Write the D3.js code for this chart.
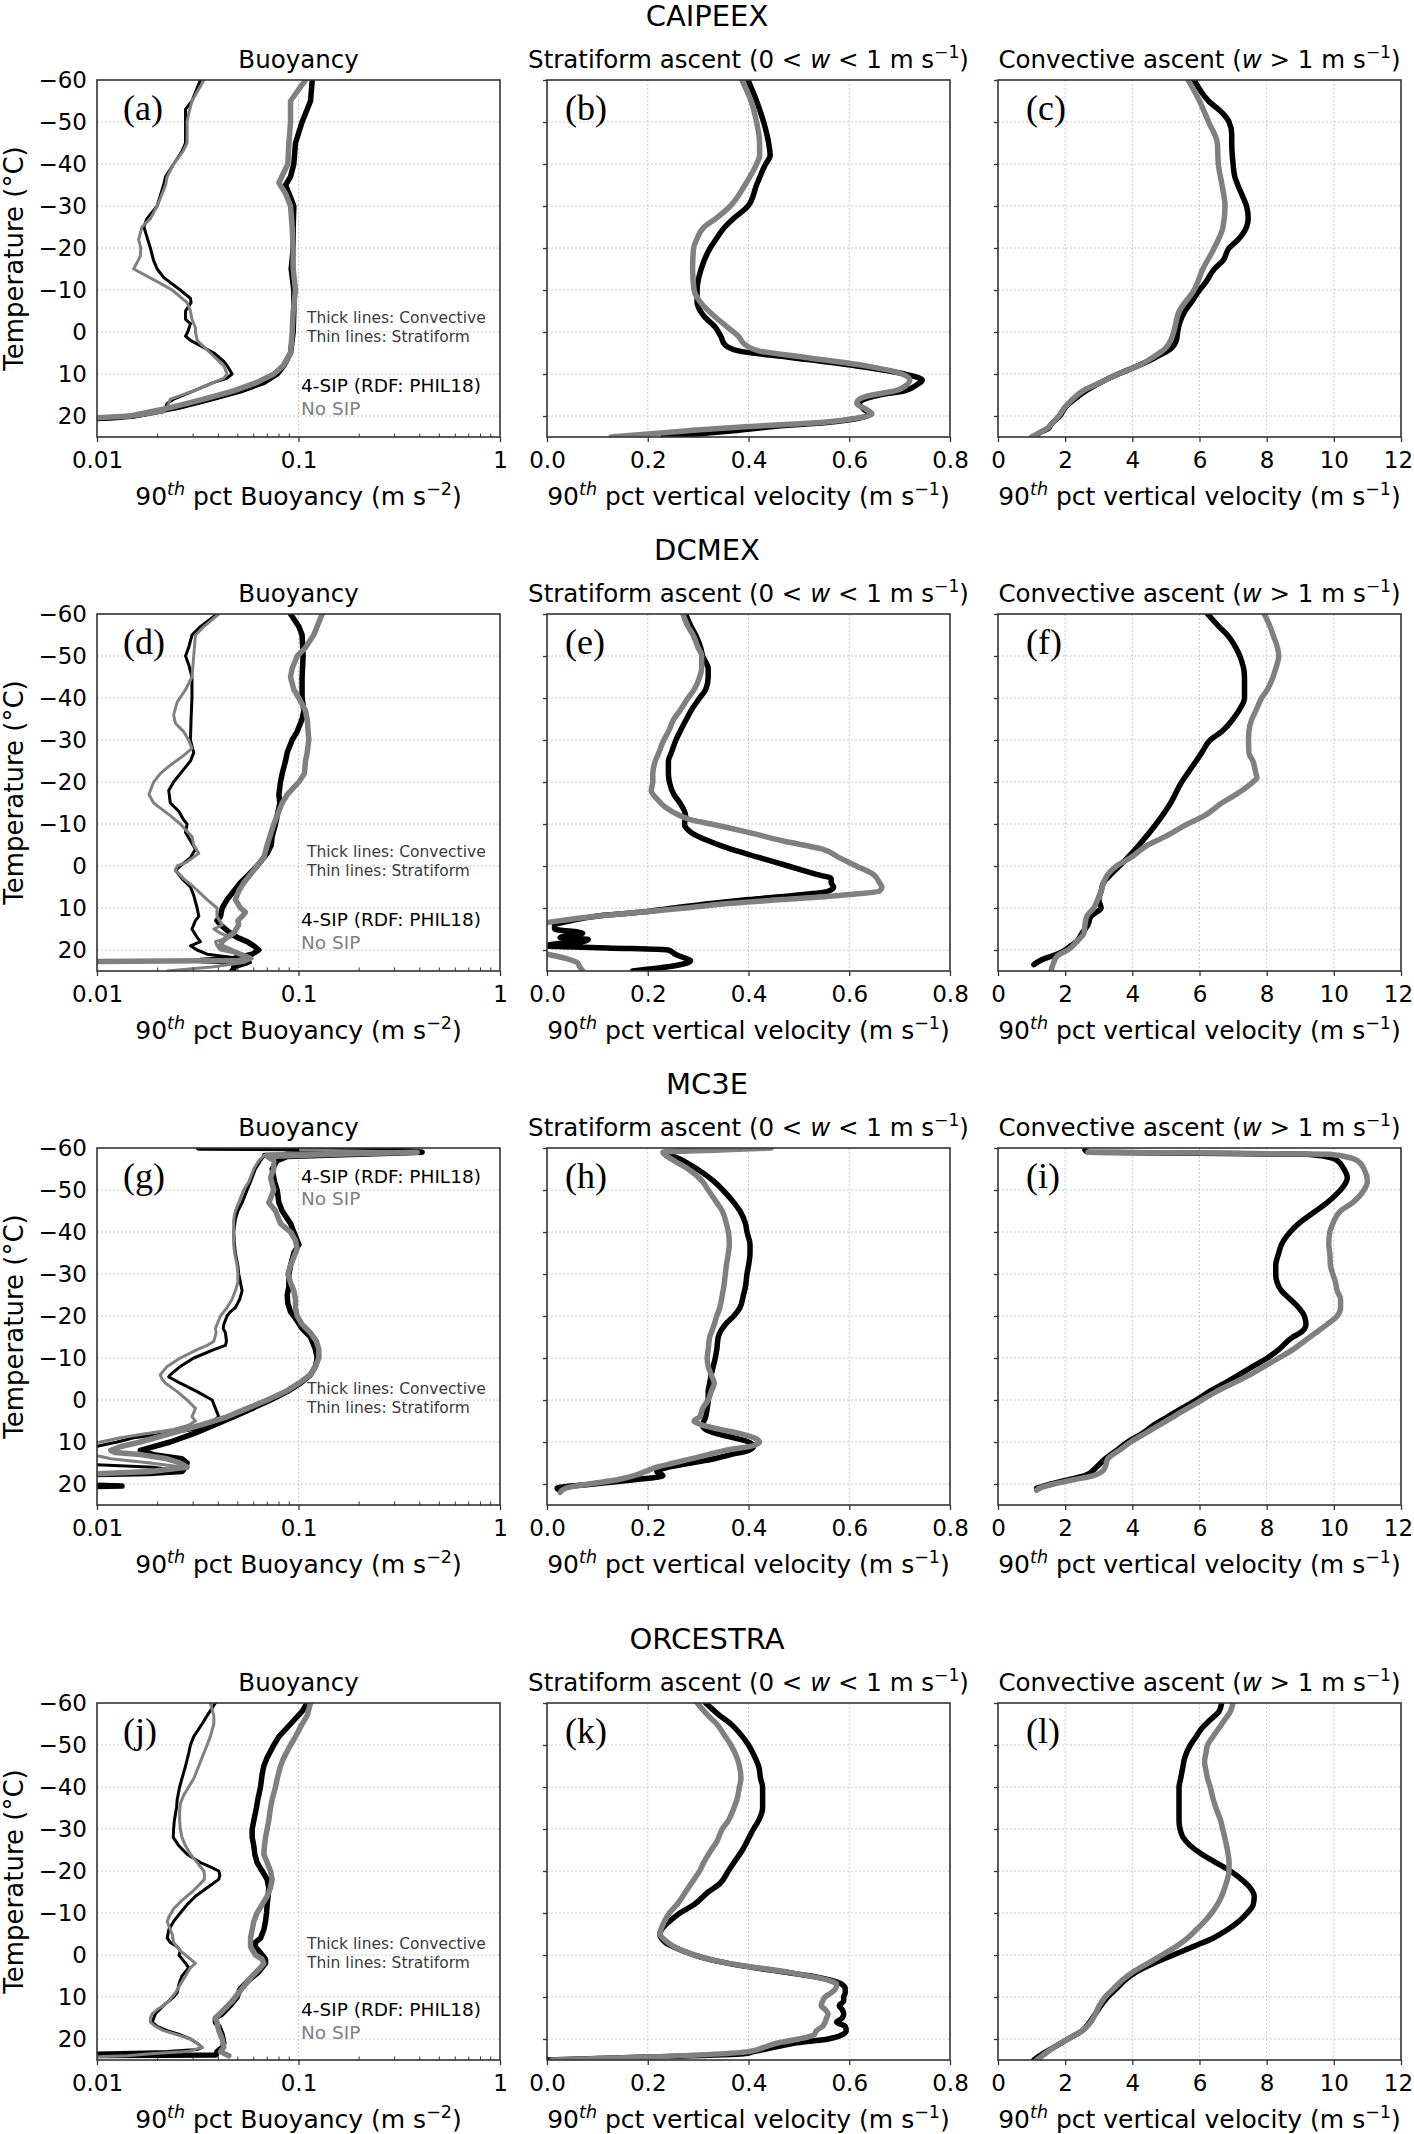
<!DOCTYPE html>
<html>
<head>
<meta charset="utf-8">
<script src="https://cdn.jsdelivr.net/npm/d3@7"></script>
<style>
  body { margin: 0; background: #fff; }
  svg { display: block; }
  text { font-family: "DejaVu Sans", sans-serif; }
</style>
</head>
<body>
<svg id="fig"></svg>
<script>
// ---- ticks / labels ----
const tempTicks = [-60, -50, -40, -30, -20, -10, 0, 10, 20];
const buoyTicks = [0.01, 0.1, 1];
const buoyTickLabels = ['0.01', '0.1', '1'];
const stratTicks = [0, 0.2, 0.4, 0.6, 0.8];
const stratTickLabels = ['0.0', '0.2', '0.4', '0.6', '0.8'];
const convTicks = [0, 2, 4, 6, 8, 10, 12];
const convTickLabels = ['0', '2', '4', '6', '8', '10', '12'];
const campaigns = ['CAIPEEX', 'DCMEX', 'MC3E', 'ORCESTRA'];
const panelLetters = ['a', 'b', 'c', 'd', 'e', 'f', 'g', 'h', 'i', 'j', 'k', 'l'];

// ---- data: [temperature (°C), value] ----
// CAIPEEX
const caiBuoyConvSip = [[-60,0.117],[-55,0.1147],[-50,0.1042],[-45,0.0966],[-40,0.0948],[-37,0.0913],[-35,0.0862],[-33,0.0896],[-30,0.0948],[-25,0.0941],[-20,0.0941],[-15,0.092],[-10,0.0948],[-5,0.0948],[0,0.0941],[5,0.0913],[8,0.0846],[10,0.0784],[12,0.0673],[14,0.0515],[16,0.0365],[18,0.025],[19,0.0191],[20,0.0152],[20.5,0.0117],[21,0.006]];
const caiBuoyConvNo = [[-60,0.1083],[-55,0.0913],[-50,0.0913],[-45,0.0896],[-40,0.0885],[-35.5,0.0799],[-33,0.0862],[-30,0.0913],[-25,0.093],[-20,0.0941],[-15,0.0941],[-10,0.0966],[-5,0.0941],[0,0.093],[5,0.0913],[8,0.084],[10,0.0754],[12,0.0623],[14,0.0477],[16,0.0339],[18,0.0231],[20,0.0146],[21,0.006]];
const caiBuoyStratSip = [[-60,0.0326],[-55,0.0296],[-53,0.0275],[-50,0.0275],[-45,0.0275],[-43,0.0264],[-40,0.024],[-37,0.0219],[-35,0.0214],[-30,0.0199],[-27,0.0177],[-25,0.0171],[-23,0.0176],[-20,0.0184],[-17,0.0191],[-15,0.0199],[-13,0.0214],[-10,0.0259],[-8,0.0291],[-7,0.0293],[-5,0.0275],[-3,0.0275],[-2,0.0291],[0,0.0282],[1,0.0275],[2,0.0291],[5,0.038],[7,0.0426],[8,0.0442],[10,0.0468],[11,0.0442],[12,0.038],[14,0.0302],[16,0.024],[17,0.0223],[18,0.0219],[19,0.0214],[20,0.0164],[20.5,0.0117],[21,0.006]];
const caiBuoyStratNo = [[-60,0.0339],[-55,0.0296],[-52,0.0285],[-50,0.028],[-45,0.028],[-43,0.0267],[-40,0.024],[-37,0.0223],[-35,0.0219],[-30,0.0199],[-27,0.0184],[-25,0.0167],[-22,0.0161],[-20,0.0165],[-18,0.0164],[-15,0.0152],[-12,0.0199],[-10,0.0236],[-7,0.028],[-5,0.0291],[-3,0.0296],[-1,0.0308],[0,0.0308],[2,0.0314],[5,0.0365],[8,0.0426],[10,0.0442],[11,0.0426],[12,0.038],[14,0.0302],[16,0.0231],[18,0.0223],[19,0.0214],[20,0.0164],[21,0.006]];
const caiStratSip = [[-60,0.399],[-55,0.416],[-50,0.43],[-45,0.44],[-42,0.443],[-40,0.434],[-35,0.416],[-30,0.399],[-27,0.37],[-25,0.353],[-22,0.335],[-20,0.324],[-15,0.306],[-10,0.298],[-7,0.298],[-4,0.31],[-1,0.335],[1,0.345],[3,0.353],[4.5,0.38],[6,0.48],[8,0.61],[10,0.71],[11.5,0.745],[12.5,0.735],[14,0.71],[15,0.66],[16,0.63],[17,0.62],[18.5,0.63],[19.5,0.64],[20.5,0.62],[21.5,0.56],[22.5,0.45],[23.5,0.37],[25,0.23]];
const caiStratNo = [[-60,0.387],[-55,0.405],[-50,0.416],[-45,0.422],[-42,0.422],[-40,0.416],[-35,0.393],[-30,0.364],[-27,0.335],[-25,0.312],[-22,0.297],[-20,0.291],[-15,0.289],[-10,0.292],[-7,0.305],[-4,0.33],[-1,0.36],[1,0.38],[3,0.393],[4.5,0.42],[6,0.51],[8,0.63],[10,0.705],[11.5,0.72],[12.5,0.715],[14,0.69],[15,0.645],[16,0.62],[17,0.615],[18.5,0.635],[19.5,0.645],[20.5,0.615],[21.5,0.55],[22.5,0.4],[23.5,0.28],[25,0.127]];
const caiConvSip = [[-60,5.84],[-55,6.27],[-52,6.7],[-50,6.88],[-47,6.96],[-45,6.96],[-40,7.0],[-37,7.05],[-35,7.14],[-32,7.3],[-30,7.4],[-27,7.45],[-25,7.4],[-22,7.15],[-20,6.88],[-17,6.7],[-15,6.44],[-12,6.2],[-10,6.0],[-7,5.75],[-5,5.57],[-2,5.4],[0,5.35],[2,5.31],[4,5.14],[6,4.7],[8,4.19],[10,3.58],[12,3.06],[14,2.62],[16,2.28],[18,2.0],[20,1.84],[22,1.58],[23,1.5],[24,1.23],[25,1.15]];
const caiConvNo = [[-60,5.66],[-55,6.0],[-50,6.27],[-45,6.53],[-40,6.56],[-35,6.67],[-30,6.76],[-25,6.7],[-20,6.44],[-15,6.1],[-10,5.84],[-5,5.4],[0,5.23],[2,5.14],[4,4.97],[6,4.62],[8,4.19],[10,3.58],[12,3.06],[14,2.53],[16,2.22],[18,1.98],[20,1.81],[22,1.58],[23,1.46],[24,1.23],[25,1.0]];

// DCMEX
const dcmBuoyConvSip = [[-60,0.0913],[-57,0.1004],[-55,0.1042],[-50,0.1054],[-45,0.1042],[-40,0.1042],[-37,0.1063],[-35,0.1042],[-32,0.0985],[-30,0.093],[-27,0.0879],[-25,0.0862],[-22,0.083],[-20,0.0814],[-17,0.0799],[-15,0.0808],[-12,0.0784],[-10,0.0769],[-7,0.074],[-5,0.0733],[-3,0.0699],[-1,0.0648],[0,0.0623],[2,0.0567],[4,0.0515],[6,0.0477],[8,0.0442],[10,0.0418],[12,0.041],[13,0.0394],[14,0.041],[15,0.0434],[16,0.0459],[17,0.0496],[18,0.0556],[19,0.06],[20,0.0635],[21,0.0589],[22,0.0477],[22.5,0.0326],[23,0.0556],[24,0.0477],[25,0.0477]];
const dcmBuoyConvNo = [[-60,0.1311],[-57,0.1238],[-55,0.119],[-52,0.1083],[-50,0.0985],[-47,0.093],[-45,0.0913],[-42,0.0948],[-40,0.1004],[-37,0.1083],[-35,0.1104],[-30,0.1125],[-27,0.1104],[-25,0.1083],[-22,0.107],[-20,0.1004],[-17,0.0879],[-15,0.083],[-12,0.0784],[-10,0.0754],[-5,0.0699],[-2,0.0673],[0,0.0623],[2,0.0578],[4,0.0535],[6,0.0505],[8,0.0486],[10,0.0515],[11,0.0545],[12,0.0525],[13,0.05],[14,0.0505],[16,0.0477],[17,0.0442],[18,0.0418],[19,0.041],[20,0.0459],[21,0.0515],[22,0.0578],[22.5,0.05],[22.8,0.006]];
const dcmBuoyStratSip = [[-60,0.0394],[-57,0.0326],[-55,0.0296],[-52,0.0285],[-50,0.0275],[-48,0.0285],[-45,0.0296],[-40,0.0296],[-35,0.0293],[-30,0.0291],[-27,0.0302],[-25,0.0291],[-22,0.0259],[-20,0.024],[-18,0.0227],[-15,0.0231],[-13,0.0255],[-11,0.0269],[-10,0.028],[-8,0.0275],[-6,0.0291],[-4,0.0308],[-2,0.0291],[0,0.0259],[1,0.0245],[3,0.0264],[5,0.0291],[7,0.0302],[10,0.0314],[12,0.032],[13,0.0308],[15,0.0296],[17,0.0314],[18,0.0326],[19,0.0291],[20,0.0314],[21,0.0352],[22,0.0515],[23,0.0578],[24,0.0477],[25,0.0459]];
const dcmBuoyStratNo = [[-60,0.0402],[-57,0.0339],[-55,0.0308],[-50,0.0302],[-45,0.0296],[-42,0.0275],[-39,0.025],[-36,0.024],[-34,0.0245],[-32,0.0269],[-30,0.0285],[-28,0.0296],[-26,0.0264],[-24,0.0231],[-22,0.0206],[-20,0.0191],[-17,0.0181],[-15,0.0191],[-12,0.0231],[-10,0.0259],[-7,0.0296],[-5,0.0302],[-3,0.032],[-1,0.028],[0,0.025],[1,0.0245],[3,0.0269],[5,0.0302],[8,0.0352],[10,0.0394],[12,0.0394],[14,0.0418],[15,0.038],[16,0.041],[17,0.0459],[18,0.0387],[19,0.0394],[20,0.041],[21,0.0515],[22,0.0589],[23,0.0535],[24,0.038],[25,0.0223]];
const dcmStratSip = [[-60,0.275],[-57,0.286],[-55,0.295],[-52,0.305],[-50,0.309],[-47,0.32],[-45,0.32],[-42,0.315],[-40,0.303],[-37,0.286],[-35,0.277],[-32,0.264],[-30,0.256],[-27,0.247],[-25,0.241],[-22,0.241],[-20,0.243],[-17,0.252],[-15,0.264],[-12,0.275],[-10,0.273],[-8,0.286],[-6,0.32],[-4,0.365],[-2,0.422],[0,0.479],[2,0.535],[3,0.564],[4,0.564],[5,0.569],[6,0.558],[7,0.49],[8,0.4],[9,0.32],[10,0.252],[11,0.184],[12,0.094],[13,0.049],[14,0.015],[15,0.015],[16,0.071],[17,0.026],[17.5,0.082],[18,0.071],[18.5,0.02],[19,0.0],[19.5,0.12],[20,0.24],[21,0.255],[22,0.275],[22.5,0.285],[23,0.28],[24,0.24],[25,0.17]];
const dcmStratNo = [[-60,0.27],[-57,0.28],[-55,0.29],[-52,0.3],[-50,0.307],[-47,0.307],[-45,0.303],[-42,0.292],[-40,0.28],[-37,0.264],[-35,0.252],[-32,0.241],[-30,0.232],[-27,0.222],[-25,0.215],[-22,0.21],[-20,0.21],[-18,0.207],[-16,0.218],[-14,0.235],[-12,0.264],[-11,0.286],[-10,0.326],[-8,0.4],[-6,0.467],[-4,0.547],[-2,0.58],[0,0.614],[2,0.648],[4,0.66],[5,0.665],[6,0.66],[7,0.58],[8,0.467],[9,0.354],[10,0.275],[11,0.184],[12,0.094],[13,0.026],[13.5,0.0],[15,-0.02],[20.5,-0.02],[21,0.0],[22,0.037],[23,0.06],[24,0.065],[25,0.071]];
const dcmConvSip = [[-60,6.24],[-57,6.58],[-55,6.83],[-52,7.08],[-50,7.2],[-45,7.34],[-40,7.34],[-37,7.17],[-35,7.0],[-32,6.66],[-30,6.32],[-27,6.07],[-25,5.9],[-22,5.64],[-20,5.47],[-15,5.14],[-10,4.71],[-5,4.2],[-2,3.86],[0,3.61],[2,3.36],[4,3.14],[6,3.07],[8,3.0],[10,3.07],[11,2.93],[12,2.76],[14,2.68],[16,2.5],[18,2.34],[19,2.17],[20,2.0],[21,1.75],[22,1.4],[23,1.15],[23.5,1.07]];
const dcmConvNo = [[-60,7.93],[-57,8.1],[-55,8.19],[-52,8.32],[-50,8.36],[-47,8.27],[-45,8.19],[-42,8.02],[-40,7.85],[-37,7.68],[-35,7.56],[-32,7.47],[-30,7.46],[-27,7.47],[-25,7.59],[-22,7.68],[-21,7.71],[-20,7.59],[-17,7.08],[-15,6.66],[-12,6.15],[-10,5.64],[-7,4.97],[-5,4.46],[-2,3.95],[0,3.53],[2,3.27],[4,3.14],[6,3.07],[8,2.97],[10,2.85],[12,2.64],[14,2.59],[16,2.56],[18,2.34],[20,2.08],[21,1.83],[22,1.71],[23,1.66],[24,1.61],[25,1.58]];

// MC3E
const mc3BuoyConvSip = [[-60,0.032],[-59.7,0.3],[-59,0.411],[-58.5,0.2],[-58,0.088],[-57,0.0784],[-55,0.074],[-52,0.076],[-50,0.0784],[-47,0.0799],[-45,0.083],[-42,0.0913],[-40,0.0948],[-37,0.1004],[-35,0.0948],[-32,0.0913],[-30,0.0896],[-27,0.0896],[-25,0.0879],[-23,0.0885],[-21,0.0913],[-20,0.0948],[-17,0.1042],[-15,0.1147],[-12,0.1214],[-10,0.1238],[-8,0.1214],[-6,0.1147],[-4,0.1023],[-2,0.0879],[0,0.0726],[2,0.0589],[4,0.0477],[6,0.038],[8,0.0302],[10,0.0231],[12,0.0164],[13,0.0191],[14,0.0264],[15,0.028],[16,0.0275],[17,0.0264],[17.5,0.018],[18,0.006],[20,0.006],[20.5,0.0133],[20.8,0.006]];
const mc3BuoyConvNo = [[-59,0.388],[-58.5,0.15],[-58,0.07],[-57,0.0754],[-55,0.0754],[-53,0.0726],[-50,0.0754],[-48,0.0726],[-47,0.0712],[-45,0.0769],[-42,0.0814],[-40,0.0913],[-38,0.0966],[-36,0.0985],[-34,0.0948],[-32,0.0913],[-30,0.0885],[-28,0.0913],[-26,0.0948],[-24,0.0966],[-22,0.0966],[-20,0.0985],[-18,0.1042],[-16,0.1147],[-14,0.1228],[-12,0.1262],[-10,0.1262],[-8,0.1214],[-6,0.1147],[-4,0.1004],[-2,0.0862],[0,0.0699],[2,0.0556],[4,0.0442],[6,0.0326],[8,0.0231],[10,0.0164],[11,0.0133],[12,0.0117],[12.5,0.0123],[13,0.0164],[14,0.0223],[15,0.0259],[16,0.028],[17,0.0184],[18,0.006]];
const mc3BuoyStratSip = [[-59.5,0.0862],[-59,0.36],[-58.5,0.0673],[-58,0.0673],[-57,0.0648],[-55,0.0611],[-52,0.0578],[-50,0.0556],[-47,0.0525],[-45,0.05],[-43,0.0486],[-40,0.0477],[-37,0.0481],[-35,0.0486],[-32,0.05],[-30,0.0505],[-28,0.0515],[-26,0.0525],[-24,0.0511],[-22,0.0486],[-21,0.0459],[-20,0.0442],[-18,0.0426],[-17,0.0423],[-16,0.0434],[-14,0.0439],[-13,0.0434],[-12,0.038],[-10,0.0302],[-8,0.0259],[-6,0.0231],[-5.5,0.0227],[-4,0.0259],[-2,0.0314],[0,0.0373],[2,0.0387],[4,0.0402],[6,0.0352],[7,0.0302],[8,0.0223],[9,0.0152],[10,0.0126],[11,0.01],[11.5,0.006],[15,0.006],[16,0.0191],[17,0.027],[17.5,0.0141],[18,0.006]];
const mc3BuoyStratNo = [[-59.5,0.1023],[-59,0.374],[-58.5,0.0686],[-57,0.0635],[-55,0.06],[-52,0.0567],[-50,0.0535],[-47,0.0505],[-45,0.0486],[-43,0.0477],[-40,0.0477],[-37,0.0477],[-35,0.0482],[-32,0.0496],[-30,0.05],[-28,0.05],[-26,0.0486],[-24,0.0468],[-22,0.0442],[-20,0.041],[-18,0.0394],[-17,0.0387],[-16,0.039],[-14,0.038],[-13,0.0352],[-12,0.0314],[-10,0.0259],[-8,0.0223],[-6,0.0206],[-5,0.021],[-4,0.0219],[-2,0.025],[0,0.028],[2,0.0308],[3,0.0302],[4,0.0296],[5,0.0308],[6,0.0285],[7,0.024],[8,0.0177],[9,0.0131],[10,0.0104],[10.5,0.006],[12.5,0.006],[13,0.0095],[14,0.0117],[15,0.0184],[16,0.0269],[17,0.0171],[18,0.006]];
const mc3StratSip = [[-60,0.343],[-59.5,0.286],[-59,0.239],[-57,0.27],[-55,0.298],[-52,0.332],[-50,0.349],[-47,0.371],[-45,0.383],[-42,0.394],[-40,0.397],[-37,0.403],[-35,0.403],[-32,0.4],[-30,0.397],[-27,0.394],[-25,0.39],[-22,0.383],[-20,0.371],[-18,0.354],[-16,0.343],[-15,0.34],[-12,0.337],[-10,0.334],[-8,0.33],[-6,0.326],[-4,0.323],[-2,0.32],[0,0.32],[2,0.318],[4,0.315],[6,0.309],[7,0.315],[8,0.337],[9,0.371],[10,0.4],[11,0.41],[12,0.4],[13,0.365],[14,0.332],[15,0.286],[16,0.241],[17,0.218],[18,0.23],[19,0.173],[20,0.094],[21,0.02],[21.5,0.026]];
const mc3StratNo = [[-60,0.445],[-59.5,0.343],[-59,0.23],[-57,0.252],[-55,0.28],[-52,0.309],[-50,0.32],[-47,0.337],[-45,0.348],[-42,0.356],[-40,0.36],[-37,0.362],[-35,0.36],[-32,0.356],[-30,0.354],[-27,0.351],[-25,0.348],[-22,0.343],[-20,0.337],[-18,0.332],[-16,0.326],[-15,0.323],[-12,0.32],[-10,0.318],[-8,0.32],[-6,0.326],[-4,0.332],[-2,0.326],[0,0.32],[2,0.309],[4,0.303],[5,0.292],[6,0.309],[7,0.343],[8,0.383],[9,0.411],[10,0.422],[11,0.405],[12,0.354],[13,0.32],[14,0.286],[15,0.252],[16,0.218],[17,0.196],[18,0.173],[19,0.139],[20,0.083],[21,0.037],[22,0.026]];
const mc3ConvSip = [[-59.5,2.59],[-59,2.68],[-58.5,9.2],[-58,9.71],[-57,10.1],[-55,10.3],[-53,10.4],[-51,10.3],[-50,10.2],[-47,9.8],[-45,9.46],[-42,8.95],[-40,8.7],[-37,8.44],[-35,8.36],[-32,8.27],[-30,8.27],[-28,8.31],[-26,8.44],[-24,8.7],[-22,8.95],[-20,9.12],[-18,9.17],[-16,9.0],[-15,8.78],[-12,8.36],[-10,8.02],[-8,7.59],[-6,7.17],[-4,6.75],[-2,6.29],[0,5.9],[2,5.47],[4,5.05],[6,4.63],[8,4.29],[10,3.86],[12,3.53],[14,3.19],[16,2.93],[18,2.59],[19,2.08],[20,1.58],[21,1.15]];
const mc3ConvNo = [[-59,2.68],[-58.8,6.2],[-58.5,9.88],[-57,10.7],[-55,10.9],[-52,11.0],[-50,10.9],[-47,10.56],[-45,10.2],[-42,9.97],[-40,9.88],[-37,9.85],[-35,9.88],[-32,9.9],[-30,9.97],[-28,10.05],[-26,10.1],[-24,10.2],[-22,10.2],[-20,10.1],[-18,9.8],[-16,9.46],[-14,9.12],[-12,8.78],[-10,8.36],[-8,7.93],[-6,7.5],[-4,7.0],[-2,6.5],[0,6.07],[2,5.64],[4,5.22],[6,4.8],[8,4.37],[10,3.95],[12,3.61],[14,3.27],[16,3.19],[17,3.1],[18,2.85],[19,2.25],[20,1.66],[21,1.24],[21.5,1.15]];

// ORCESTRA
const orcBuoyConvSip = [[-60,0.1104],[-58,0.1042],[-55,0.0913],[-52,0.0799],[-50,0.0754],[-47,0.0699],[-45,0.0673],[-43,0.066],[-40,0.0648],[-37,0.0628],[-35,0.0618],[-32,0.06],[-30,0.0589],[-28,0.0589],[-26,0.06],[-24,0.0607],[-22,0.0623],[-20,0.066],[-18,0.0699],[-16,0.0712],[-14,0.0707],[-12,0.0699],[-10,0.0694],[-8,0.0686],[-6,0.0673],[-4,0.0648],[-3,0.0611],[-2,0.0611],[-1,0.0635],[1,0.0686],[2,0.0686],[4,0.0635],[6,0.0567],[8,0.0515],[10,0.0496],[12,0.0459],[14,0.0418],[15,0.0387],[16,0.0387],[17,0.0402],[19,0.0418],[21,0.0426],[22,0.0418],[23,0.0394],[23.8,0.039],[24,0.006]];
const orcBuoyConvNo = [[-60,0.1147],[-57,0.1104],[-55,0.1042],[-52,0.0966],[-50,0.0913],[-47,0.0846],[-45,0.0814],[-42,0.0784],[-40,0.0769],[-37,0.074],[-35,0.0726],[-32,0.0712],[-30,0.0699],[-28,0.0686],[-26,0.0678],[-24,0.0673],[-22,0.0699],[-20,0.0726],[-18,0.074],[-16,0.0726],[-14,0.0699],[-12,0.066],[-10,0.0623],[-8,0.06],[-6,0.0589],[-4,0.0578],[-2,0.0578],[0,0.0611],[1,0.066],[2,0.0673],[3,0.0648],[5,0.0589],[7,0.0545],[9,0.0505],[11,0.0468],[13,0.0426],[15,0.0387],[16,0.0394],[18,0.0402],[20,0.0418],[22,0.0426],[23,0.041],[24,0.0451]];
const orcBuoyStratSip = [[-60,0.0387],[-57,0.0352],[-55,0.0332],[-52,0.0302],[-50,0.0291],[-48,0.0285],[-45,0.0275],[-42,0.0264],[-40,0.0257],[-37,0.025],[-35,0.0248],[-32,0.0242],[-30,0.024],[-28,0.0239],[-26,0.0255],[-24,0.028],[-22,0.0326],[-21,0.0365],[-20,0.0402],[-19,0.0407],[-18,0.0402],[-16,0.0352],[-14,0.0308],[-12,0.028],[-10,0.0259],[-8,0.024],[-6,0.0227],[-4,0.0223],[-3,0.0231],[-2,0.025],[-1,0.0259],[0,0.0255],[2,0.0275],[3,0.0285],[4,0.0275],[5,0.0264],[6,0.0259],[7,0.0255],[9,0.025],[10,0.024],[12,0.0214],[14,0.0195],[16,0.0188],[17,0.0199],[18,0.0223],[19,0.0259],[20,0.0291],[21,0.0314],[22,0.0332],[22.5,0.0314],[23,0.0223],[23.5,0.006]];
const orcBuoyStratNo = [[-60,0.0365],[-57,0.038],[-55,0.038],[-52,0.0365],[-50,0.0352],[-47,0.0332],[-45,0.032],[-42,0.0302],[-40,0.0285],[-38,0.0269],[-36,0.0259],[-34,0.0257],[-32,0.0257],[-30,0.0259],[-28,0.0264],[-26,0.0275],[-24,0.0291],[-22,0.0314],[-20,0.0339],[-19,0.0341],[-18,0.0341],[-17,0.0326],[-15,0.0296],[-13,0.0264],[-11,0.024],[-9,0.0227],[-8,0.0223],[-7,0.0227],[-5,0.0236],[-3,0.024],[-1,0.0259],[0,0.0275],[1,0.0291],[2,0.0308],[3,0.0291],[5,0.0275],[7,0.0259],[9,0.0245],[11,0.0227],[12,0.0214],[13,0.0199],[14,0.0188],[15,0.0184],[16,0.0184],[17,0.0195],[18,0.0214],[19,0.025],[20,0.0291],[21,0.0314],[22,0.0332],[23,0.028],[23.5,0.0184],[24,0.0141],[24.5,0.006]];
const orcStratSip = [[-60,0.315],[-57,0.343],[-55,0.365],[-52,0.388],[-50,0.4],[-47,0.413],[-45,0.42],[-42,0.424],[-40,0.428],[-37,0.428],[-35,0.428],[-32,0.42],[-30,0.41],[-27,0.397],[-25,0.388],[-22,0.371],[-20,0.36],[-17,0.343],[-15,0.32],[-12,0.292],[-10,0.264],[-8,0.243],[-6,0.227],[-5,0.224],[-4,0.227],[-3,0.235],[-2,0.25],[-1,0.269],[0,0.292],[1,0.32],[2,0.36],[3,0.41],[4,0.467],[5,0.524],[6,0.563],[7,0.586],[8,0.592],[9,0.592],[10,0.589],[11,0.589],[12,0.58],[13,0.586],[14,0.589],[15,0.586],[16,0.575],[17,0.592],[18,0.594],[19,0.586],[20,0.558],[21,0.49],[22,0.45],[23,0.41],[23.5,0.39],[24.3,0.2],[25,0.0]];
const orcStratNo = [[-60,0.298],[-57,0.32],[-55,0.337],[-52,0.354],[-50,0.365],[-47,0.377],[-45,0.382],[-42,0.385],[-40,0.382],[-37,0.377],[-35,0.371],[-32,0.36],[-30,0.348],[-27,0.337],[-25,0.326],[-22,0.311],[-20,0.303],[-17,0.286],[-15,0.275],[-12,0.258],[-10,0.243],[-8,0.233],[-6,0.226],[-5,0.224],[-4,0.23],[-2,0.252],[0,0.292],[2,0.36],[4,0.473],[6,0.558],[7,0.575],[8,0.573],[9,0.564],[10,0.552],[11,0.547],[12,0.544],[13,0.552],[14,0.558],[15,0.555],[16,0.552],[17,0.547],[18,0.535],[19,0.53],[20,0.5],[21,0.456],[22,0.43],[23,0.4],[24.3,0.2],[25,0.01]];
const orcConvSip = [[-60,6.66],[-58,6.58],[-56,6.32],[-54,6.07],[-52,5.9],[-50,5.73],[-47,5.56],[-45,5.51],[-42,5.44],[-40,5.39],[-37,5.39],[-35,5.39],[-32,5.39],[-30,5.42],[-28,5.51],[-26,5.73],[-24,6.07],[-22,6.49],[-20,6.92],[-18,7.25],[-16,7.51],[-14,7.63],[-12,7.6],[-10,7.42],[-8,7.17],[-6,6.83],[-4,6.4],[-2,5.81],[0,5.22],[2,4.63],[4,4.12],[6,3.78],[8,3.53],[10,3.27],[12,3.07],[14,2.9],[16,2.73],[18,2.51],[20,2.08],[22,1.66],[24,1.24],[25,1.07]];
const orcConvNo = [[-60,7.0],[-58,6.92],[-56,6.75],[-54,6.58],[-52,6.4],[-50,6.24],[-48,6.19],[-46,6.15],[-44,6.19],[-42,6.24],[-40,6.32],[-37,6.41],[-35,6.49],[-32,6.63],[-30,6.69],[-27,6.78],[-25,6.83],[-22,6.88],[-20,6.88],[-18,6.83],[-16,6.75],[-14,6.66],[-12,6.53],[-10,6.36],[-8,6.15],[-6,5.9],[-4,5.64],[-2,5.3],[0,4.88],[2,4.46],[4,4.03],[6,3.7],[8,3.44],[10,3.19],[12,3.02],[14,2.9],[16,2.76],[18,2.51],[20,2.08],[22,1.66],[24,1.32],[25,1.15]];

// ---- layout ----
const W = 1414, H = 2134;
const colX = [97, 547, 998];
const rowY = [80, 614, 1148, 1703];
const PW = 403, PH = 357;
const SIP_COLOR = '#000000', NOSIP_COLOR = '#808080';
const THICK = 5.5, THIN = 3;

const rows = [
  { buoy: [caiBuoyConvSip, caiBuoyStratSip, caiBuoyConvNo, caiBuoyStratNo], strat: [caiStratSip, caiStratNo], conv: [caiConvSip, caiConvNo],
    noteY: [243, 262], simY: [312, 335] },
  { buoy: [dcmBuoyConvSip, dcmBuoyStratSip, dcmBuoyConvNo, dcmBuoyStratNo], strat: [dcmStratSip, dcmStratNo], conv: [dcmConvSip, dcmConvNo],
    noteY: [243, 262], simY: [312, 335] },
  { buoy: [mc3BuoyConvSip, mc3BuoyStratSip, mc3BuoyConvNo, mc3BuoyStratNo], strat: [mc3StratSip, mc3StratNo], conv: [mc3ConvSip, mc3ConvNo],
    noteY: [246, 265], simY: [35, 57] },
  { buoy: [orcBuoyConvSip, orcBuoyStratSip, orcBuoyConvNo, orcBuoyStratNo], strat: [orcStratSip, orcStratNo], conv: [orcConvSip, orcConvNo],
    noteY: [246, 265], simY: [313, 336] }
];

const svg = d3.select('#fig').attr('width', W).attr('height', H);
svg.append('rect').attr('width', W).attr('height', H).attr('fill', '#fff');

// text with superscripts / italics
function richText(sel, parts, size) {
  let shifted = false;
  parts.forEach(p => {
    const ts = sel.append('tspan').text(p.t);
    if (p.it) ts.style('font-style', 'italic');
    if (p.sup) {
      ts.attr('font-size', size * 0.7).attr('dy', -size * 0.42);
      shifted = true;
    } else if (shifted) {
      ts.attr('dy', size * 0.42);
      shifted = false;
    }
  });
}

const titleParts = {
  buoy: [{ t: 'Buoyancy' }],
  strat: [{ t: 'Stratiform ascent (0 < ' }, { t: 'w', it: true }, { t: ' < 1 m s' }, { t: '\u22121', sup: true }, { t: ')' }],
  conv: [{ t: 'Convective ascent (' }, { t: 'w', it: true }, { t: ' > 1 m s' }, { t: '\u22121', sup: true }, { t: ')' }]
};
const xlabelParts = {
  buoy: [{ t: '90' }, { t: 'th', sup: true, it: true }, { t: ' pct Buoyancy (m s' }, { t: '\u22122', sup: true }, { t: ')' }],
  vel: [{ t: '90' }, { t: 'th', sup: true, it: true }, { t: ' pct vertical velocity (m s' }, { t: '\u22121', sup: true }, { t: ')' }]
};

function drawPanel(row, col, kind, lines, letter) {
  const left = colX[col], top = rowY[row];
  const g = svg.append('g').attr('transform', `translate(${left},${top})`);
  const y = d3.scaleLinear().domain([-60, 25]).range([0, PH]);
  let x, ticks, labels;
  if (kind === 'buoy') { x = d3.scaleLog().domain([0.01, 1]).range([0, PW]); ticks = buoyTicks; labels = buoyTickLabels; }
  else if (kind === 'strat') { x = d3.scaleLinear().domain([0, 0.8]).range([0, PW]); ticks = stratTicks; labels = stratTickLabels; }
  else { x = d3.scaleLinear().domain([0, 12]).range([0, PW]); ticks = convTicks; labels = convTickLabels; }

  // grid
  const grid = g.append('g').attr('stroke', '#c4c4c4').attr('stroke-width', 0.9).attr('stroke-dasharray', '2,2');
  grid.selectAll('.gx').data(ticks.slice(1, -1)).join('line')
    .attr('x1', d => x(d)).attr('x2', d => x(d)).attr('y1', 0).attr('y2', PH);
  grid.selectAll('.gy').data(tempTicks.slice(1)).join('line')
    .attr('x1', 0).attr('x2', PW).attr('y1', d => y(d)).attr('y2', d => y(d));

  // profiles
  const clipId = 'clip-' + letter;
  g.append('clipPath').attr('id', clipId).append('rect').attr('width', PW).attr('height', PH);
  const line = d3.line()
    .x(d => x(d[1]))
    .y(d => y(d[0]))
    .curve(kind === 'buoy' ? d3.curveLinear : d3.curveMonotoneY);
  let series;
  if (kind === 'buoy') {
    series = [
      { data: lines[0], color: SIP_COLOR, w: THICK },
      { data: lines[1], color: SIP_COLOR, w: THIN },
      { data: lines[2], color: NOSIP_COLOR, w: THICK },
      { data: lines[3], color: NOSIP_COLOR, w: THIN }
    ];
  } else {
    series = [
      { data: lines[0], color: SIP_COLOR, w: THICK },
      { data: lines[1], color: NOSIP_COLOR, w: THICK }
    ];
  }
  g.append('g').attr('clip-path', `url(#${clipId})`)
    .selectAll('path').data(series).join('path')
    .attr('d', d => line(d.data))
    .attr('fill', 'none')
    .attr('stroke', d => d.color)
    .attr('stroke-width', d => d.w)
    .attr('stroke-linejoin', 'round')
    .attr('stroke-linecap', 'round');

  // x axis
  const xAxis = d3.axisBottom(x).tickValues(ticks).tickSize(5).tickPadding(10)
    .tickFormat((d, i) => labels[i]);
  const gx = g.append('g').attr('transform', `translate(0,${PH})`).call(xAxis);
  gx.select('.domain').remove();
  gx.selectAll('line').attr('stroke', '#333').attr('stroke-width', 1.3);
  gx.selectAll('text').attr('font-size', 23).attr('fill', '#000');
  if (kind === 'conv') {
    // keep the last label inside the page edge
    gx.selectAll('.tick text').filter((d, i) => i === ticks.length - 1).attr('dx', -3);
  }
  if (kind === 'buoy') {
    // minor log ticks, drawn inward
    const minor = x.ticks().filter(v => !buoyTicks.includes(v));
    g.append('g').selectAll('line').data(minor).join('line')
      .attr('x1', d => x(d)).attr('x2', d => x(d)).attr('y1', PH).attr('y2', PH - 3.5)
      .attr('stroke', '#333').attr('stroke-width', 1);
  }

  // y axis
  const yAxis = d3.axisLeft(y).tickValues(tempTicks);
  if (col > 0) yAxis.tickFormat('').tickSize(4);
  else yAxis.tickSize(0).tickPadding(10);
  const gy = g.append('g').call(yAxis);
  gy.select('.domain').remove();
  gy.selectAll('line').attr('stroke', '#333').attr('stroke-width', 1.3);
  gy.selectAll('text').attr('font-size', 23).attr('fill', '#000');

  // spines
  g.append('rect').attr('width', PW).attr('height', PH)
    .attr('fill', 'none').attr('stroke', '#333').attr('stroke-width', 1.6);

  // title
  richText(g.append('text').attr('x', PW / 2).attr('y', -12).attr('text-anchor', 'middle')
    .attr('font-size', 24.5).attr('fill', '#000'), titleParts[kind], 24.5);

  // x label
  richText(g.append('text').attr('x', PW / 2).attr('y', PH + 68).attr('text-anchor', 'middle')
    .attr('font-size', 25).attr('fill', '#000'), kind === 'buoy' ? xlabelParts.buoy : xlabelParts.vel, 25);

  // y label
  if (col === 0) {
    g.append('text').attr('transform', `translate(${23 - left},${PH / 2}) rotate(-90)`)
      .attr('text-anchor', 'middle').attr('font-size', 26).attr('fill', '#000')
      .text('Temperature (\u00b0C)');
  }

  // panel letter
  const letterDx = [26, 18, 28][col];
  g.append('text').attr('x', letterDx).attr('y', 40)
    .style('font-family', '"Liberation Serif", "DejaVu Serif", serif')
    .attr('font-size', 36).attr('fill', '#000')
    .text(`(${letter})`);

  return g;
}

rows.forEach((r, i) => {
  // campaign title
  svg.append('text').attr('x', W / 2).attr('y', rowY[i] - 54)
    .attr('text-anchor', 'middle').attr('font-size', 29).attr('fill', '#000')
    .text(campaigns[i]);

  const ga = drawPanel(i, 0, 'buoy', r.buoy, panelLetters[i * 3]);
  drawPanel(i, 1, 'strat', r.strat, panelLetters[i * 3 + 1]);
  drawPanel(i, 2, 'conv', r.conv, panelLetters[i * 3 + 2]);

  // annotations in buoyancy panel
  ga.append('text').attr('x', 210).attr('y', r.noteY[0]).attr('font-size', 15.5).attr('fill', '#3a3a3a')
    .text('Thick lines: Convective');
  ga.append('text').attr('x', 210).attr('y', r.noteY[1]).attr('font-size', 15.5).attr('fill', '#3a3a3a')
    .text('Thin lines: Stratiform');
  ga.append('text').attr('x', 204).attr('y', r.simY[0]).attr('font-size', 18.5).attr('fill', SIP_COLOR)
    .text('4-SIP (RDF: PHIL18)');
  ga.append('text').attr('x', 204).attr('y', r.simY[1]).attr('font-size', 18.5).attr('fill', NOSIP_COLOR)
    .text('No SIP');
});
</script>
</body>
</html>
